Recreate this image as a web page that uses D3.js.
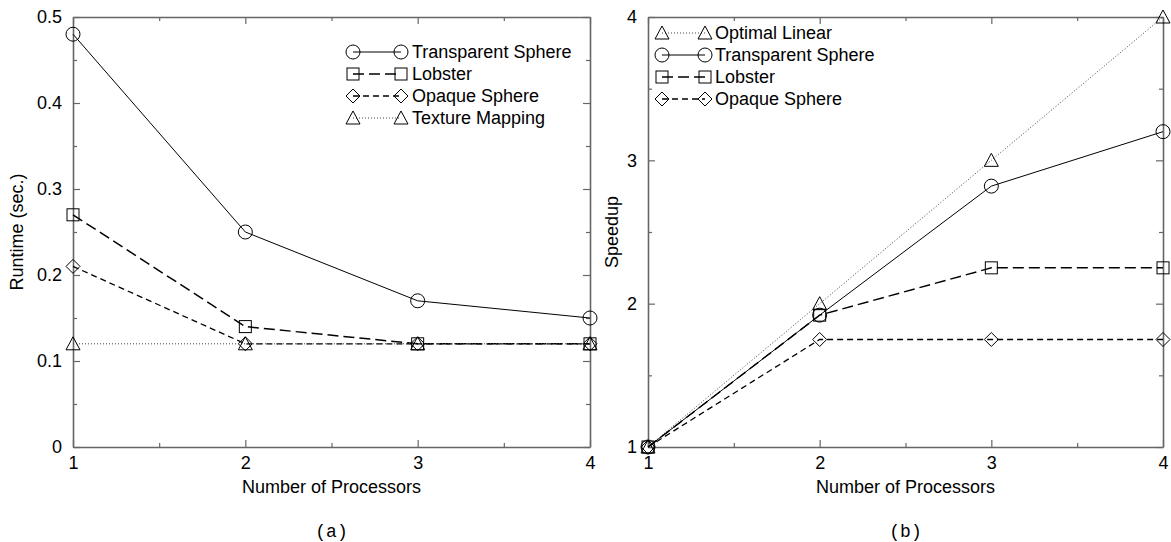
<!DOCTYPE html>
<html>
<head>
<meta charset="utf-8">
<script src="https://cdn.jsdelivr.net/npm/d3@7"></script>
<style>
  body { margin: 0; background: #fff; }
  svg text { font-family: "Liberation Sans", Arial, sans-serif; }
</style>
</head>
<body>
<svg id="chart" width="1171" height="542"></svg>
<script>
// data
const procs = [1, 2, 3, 4];

const runtimeTransparent = [0.48, 0.25, 0.17, 0.15];
const runtimeLobster = [0.27, 0.14, 0.12, 0.12];
const runtimeOpaque = [0.21, 0.12, 0.12, 0.12];
const runtimeTexture = [0.12, 0.12, 0.12, 0.12];

const speedupLinear = [1, 2, 3, 4];
const speedupTransparent = [1, 1.92, 2.82, 3.2];
const speedupLobster = [1, 1.92, 2.25, 2.25];
const speedupOpaque = [1, 1.75, 1.75, 1.75];

const runtimeTicks = [0, 0.05, 0.1, 0.15, 0.2, 0.25, 0.3, 0.35, 0.4, 0.45, 0.5];
const speedupTicks = [1, 1.5, 2, 2.5, 3, 3.5, 4];
const procTicks = [1, 1.5, 2, 2.5, 3, 3.5, 4];

const styles = {
  solid: { dash: null, width: 1 },
  longdash: { dash: "11,5", width: 1.5 },
  dash: { dash: "6,4", width: 1.3 },
  dot: { dash: "1,2", width: 1 },
};

const svg = d3.select("#chart");
const frameColor = "#666";

function marker(g, type, cx, cy) {
  if (type === "circle") {
    g.append("circle").attr("cx", cx).attr("cy", cy).attr("r", 7);
  } else if (type === "square") {
    g.append("rect").attr("x", cx - 6).attr("y", cy - 6).attr("width", 12).attr("height", 12);
  } else if (type === "diamond") {
    g.append("path").attr("d", `M${cx},${cy - 7}L${cx + 7},${cy}L${cx},${cy + 7}L${cx - 7},${cy}Z`);
  } else if (type === "triangle") {
    g.append("path").attr("d", `M${cx},${cy - 7}L${cx + 7},${cy + 6}L${cx - 7},${cy + 6}Z`);
  }
}

function drawPanel({ left, right, top, bottom, yDomain, yTicks, isMajorY, yFmt, yTitle, yTitleX, series, legend, caption }) {
  const x = d3.scaleLinear().domain([1, 4]).range([left, right]);
  const y = d3.scaleLinear().domain(yDomain).range([bottom, top]);
  const g = svg.append("g");

  const isMajorX = (d) => Number.isInteger(d);

  function styleAxis(ax, isMajor) {
    ax.select(".domain").attr("stroke", frameColor).attr("stroke-width", 1.6);
    ax.selectAll(".tick line").attr("stroke", frameColor).attr("stroke-width", 1.2);
    ax.selectAll(".tick text").attr("font-size", 18).attr("fill", "#000")
      .attr("font-family", '"Liberation Sans", Arial, sans-serif');
    ax.selectAll(".tick").filter((d) => !isMajor(d)).select("line").each(function () {
      const l = d3.select(this);
      if (l.attr("x2") !== null && +l.attr("x2") !== 0) l.attr("x2", Math.sign(+l.attr("x2")) * 4);
      if (l.attr("y2") !== null && +l.attr("y2") !== 0) l.attr("y2", Math.sign(+l.attr("y2")) * 4);
    });
  }

  const bottomAx = g.append("g").attr("transform", `translate(0,${bottom})`)
    .call(d3.axisBottom(x).tickValues(procTicks).tickSizeInner(-7).tickSizeOuter(0).tickPadding(9)
      .tickFormat((d) => (isMajorX(d) ? d : "")));
  styleAxis(bottomAx, isMajorX);

  const topAx = g.append("g").attr("transform", `translate(0,${top})`)
    .call(d3.axisTop(x).tickValues(procTicks).tickSizeInner(-7).tickSizeOuter(0).tickFormat(""));
  styleAxis(topAx, isMajorX);

  const leftAx = g.append("g").attr("transform", `translate(${left},0)`)
    .call(d3.axisLeft(y).tickValues(yTicks).tickSizeInner(-7).tickSizeOuter(0).tickPadding(11)
      .tickFormat((d) => (isMajorY(d) ? yFmt(d) : "")));
  styleAxis(leftAx, isMajorY);

  const rightAx = g.append("g").attr("transform", `translate(${right},0)`)
    .call(d3.axisRight(y).tickValues(yTicks).tickSizeInner(-7).tickSizeOuter(0).tickFormat(""));
  styleAxis(rightAx, isMajorY);

  // axis titles
  g.append("text").attr("x", (left + right) / 2).attr("y", 493).attr("text-anchor", "middle")
    .attr("font-size", 18).text("Number of Processors");
  g.append("text").attr("transform", `translate(${yTitleX},${(top + bottom) / 2}) rotate(-90)`)
    .attr("text-anchor", "middle").attr("dy", "0.35em").attr("font-size", 18).text(yTitle);

  // caption
  g.append("text").attr("x", (left + right) / 2).attr("y", 537).attr("text-anchor", "middle")
    .attr("font-family", '"Liberation Mono", "DejaVu Sans Mono", monospace')
    .style("font-family", '"Liberation Mono", "DejaVu Sans Mono", monospace')
    .attr("font-size", 18).text(caption);

  const line = d3.line().x((d) => x(d[0])).y((d) => y(d[1]));

  series.forEach((s) => {
    const st = styles[s.style];
    const pts = procs.map((p, i) => [p, s.values[i]]);
    g.append("path").datum(pts).attr("d", line).attr("fill", "none")
      .attr("stroke", s.style === "dot" ? "#444" : "#000")
      .attr("stroke-width", st.width).attr("stroke-dasharray", st.dash);
    const mg = g.append("g").attr("fill", "none").attr("stroke", "#000").attr("stroke-width", 1);
    pts.forEach((p) => marker(mg, s.marker, x(p[0]), y(p[1])));
  });

  // legend
  legend.rows.forEach((s, i) => {
    const st = styles[s.style];
    const ly = legend.y + i * 22;
    g.append("line").attr("x1", legend.x1).attr("x2", legend.x2).attr("y1", ly).attr("y2", ly)
      .attr("stroke", s.style === "dot" ? "#444" : "#000")
      .attr("stroke-width", st.width).attr("stroke-dasharray", st.dash);
    const mg = g.append("g").attr("fill", "none").attr("stroke", "#000").attr("stroke-width", 1);
    marker(mg, s.marker, legend.x1, ly);
    marker(mg, s.marker, legend.x2, ly);
    g.append("text").attr("x", legend.tx).attr("y", ly).attr("dy", "0.35em")
      .attr("font-size", 18).text(s.name);
  });
}

const runtimeSeries = [
  { name: "Transparent Sphere", values: runtimeTransparent, style: "solid", marker: "circle" },
  { name: "Lobster", values: runtimeLobster, style: "longdash", marker: "square" },
  { name: "Opaque Sphere", values: runtimeOpaque, style: "dash", marker: "diamond" },
  { name: "Texture Mapping", values: runtimeTexture, style: "dot", marker: "triangle" },
];

const speedupSeries = [
  { name: "Optimal Linear", values: speedupLinear, style: "dot", marker: "triangle" },
  { name: "Transparent Sphere", values: speedupTransparent, style: "solid", marker: "circle" },
  { name: "Lobster", values: speedupLobster, style: "longdash", marker: "square" },
  { name: "Opaque Sphere", values: speedupOpaque, style: "dash", marker: "diamond" },
];

drawPanel({
  left: 73, right: 590, top: 17, bottom: 447,
  yDomain: [0, 0.5], yTicks: runtimeTicks,
  isMajorY: (d) => Math.round(d * 100) % 10 === 0,
  yFmt: (d) => String(+d.toFixed(1)),
  yTitle: "Runtime (sec.)", yTitleX: 17,
  series: runtimeSeries,
  legend: { rows: runtimeSeries, y: 52, x1: 353, x2: 401, tx: 412 },
  caption: "(a)",
});

drawPanel({
  left: 648, right: 1163, top: 17, bottom: 447,
  yDomain: [1, 4], yTicks: speedupTicks,
  isMajorY: (d) => Number.isInteger(d),
  yFmt: (d) => String(d),
  yTitle: "Speedup", yTitleX: 612,
  series: speedupSeries,
  legend: { rows: speedupSeries, y: 33, x1: 662, x2: 705, tx: 715 },
  caption: "(b)",
});
</script>
</body>
</html>
